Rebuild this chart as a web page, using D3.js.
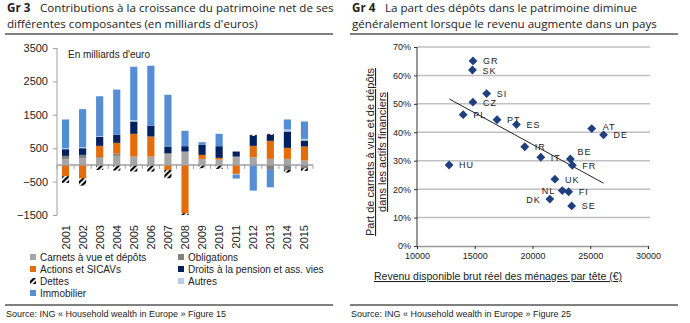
<!DOCTYPE html>
<html>
<head>
<meta charset="utf-8">
<script src="https://cdn.jsdelivr.net/npm/d3@7"></script>
<style>
  body { margin: 0; background: #fff; }
  svg { display: block; }
  .title { font-family: "Open Sans", sans-serif; font-size: 11.6px; fill: #222; }
  .ax { font-family: Arial, "Liberation Sans", sans-serif; fill: #222; }
</style>
</head>
<body>
<div id="chart"></div>
<script>
var W = 690, H = 323;

// ---- Gr 3 data (milliards d'euros)
var years = ["2001","2002","2003","2004","2005","2006","2007","2008","2009","2010","2011","2012","2013","2014","2015"];
var carnets     = [170, 200, 200, 270, 250, 250, 320, 400, 180, 160, 230, 230, 180, 180, 130];
var obligations = [100, 100, 30, 70, 0, 0, 30, 0, 0, 0, 20, 0, -150, -150, -100];
var actions     = [-340, -400, 340, 320, 680, 600, -150, -1450, 120, 50, -270, 340, 540, 330, 420];
var pension     = [200, 200, 265, 245, 370, 320, 200, 160, 300, 350, 150, 300, 180, 490, 180];
var dettes      = [-200, -220, -150, -170, -200, -200, -250, -50, -100, -120, 0, 30, 30, -80, -80];
var autres      = [30, 30, 20, 0, 40, 0, 0, 0, 0, 0, -20, 0, 0, 60, 50];
var immobilier  = [860, 1140, 1200, 1350, 1600, 1800, 1550, 460, 80, 370, -120, -770, -520, 300, 520];
var leftTicks = [-1500, -500, 500, 1500, 2500, 3500];

// ---- Gr 4 data
var countries = ["GR","SK","SI","CZ","PL","PT","ES","HU","AT","DE","IR","IT","BE","FR","UK","NL","FI","DK","SE"];
var revenu    = [14850, 14800, 16030, 14840, 14000, 16930, 18610, 12780, 25130, 26150, 19330, 20720, 23280, 23450, 21940, 22580, 23130, 21500, 23390];
var partDepots= [0.651, 0.619, 0.536, 0.506, 0.462, 0.444, 0.427, 0.285, 0.413, 0.391, 0.349, 0.312, 0.306, 0.284, 0.235, 0.195, 0.191, 0.165, 0.141];
var trendX = [12800, 26150];
var trendY = [0.517, 0.221];
var pctTicks = [0, 0.1, 0.2, 0.3, 0.4, 0.5, 0.6, 0.7];
var revTicks = [10000, 15000, 20000, 25000, 30000];

var svg = d3.select("#chart").append("svg").attr("width", W).attr("height", H);

var defs = svg.append("defs");
var pat = defs.append("pattern").attr("id", "hatch").attr("patternUnits", "userSpaceOnUse")
    .attr("width", 4).attr("height", 4).attr("patternTransform", "rotate(45)");
pat.append("rect").attr("width", 4).attr("height", 4).attr("fill", "#fff");
pat.append("rect").attr("width", 2.2).attr("height", 4).attr("fill", "#000");

// ---------- titles
function title(x, num, l1, l2, x1, x2) {
  svg.append("text").attr("class", "title").attr("x", x).attr("y", 12).attr("font-weight", "bold").text(num);
  svg.append("text").attr("class", "title").attr("x", x + 33).attr("y", 12).text(l1);
  svg.append("text").attr("class", "title").attr("x", x).attr("y", 27.5).text(l2);
  svg.append("line").attr("x1", x1).attr("x2", x2).attr("y1", 34).attr("y2", 34).attr("stroke", "#000").attr("stroke-width", 1);
}
title(7, "Gr 3", "Contributions à la croissance du patrimoine net de ses", "différentes composantes (en milliards d'euros)", 5, 333);
title(352, "Gr 4", "La part des dépôts dans le patrimoine diminue", "généralement lorsque le revenu augmente dans un pays", 350, 678);

// ---------- Gr 3
var keys = ["carnets","obligations","actions","pension","dettes","autres","immobilier"];
var colors = {carnets:"#A6A6A6", obligations:"#808080", actions:"#E46C0A", pension:"#002060",
              dettes:"url(#hatch)", autres:"#B9CDE5", immobilier:"#558ED5"};
var series = {carnets:carnets, obligations:obligations, actions:actions, pension:pension,
              dettes:dettes, autres:autres, immobilier:immobilier};
var rows = years.map(function(y, i) {
  var r = {year: y};
  keys.forEach(function(k) { r[k] = series[k][i]; });
  return r;
});

var x = d3.scaleBand().domain(years).range([57, 313]).paddingInner(0.58).paddingOuter(0.29);
var y = d3.scaleLinear().domain([-1500, 3500]).range([215, 48]);

var stacked = d3.stack().keys(keys).offset(d3.stackOffsetDiverging)(rows);

svg.append("g").selectAll("g").data(stacked).enter().append("g")
  .attr("fill", function(d) { return colors[d.key]; })
  .selectAll("rect").data(function(d) { return d; }).enter().append("rect")
  .attr("x", function(d) { return x(d.data.year); })
  .attr("width", x.bandwidth())
  .attr("y", function(d) { return y(Math.max(d[0], d[1])); })
  .attr("height", function(d) { return Math.abs(y(d[0]) - y(d[1])); });

// y axis
var yAxis = svg.append("g").attr("transform", "translate(57,0)")
  .call(d3.axisLeft(y).tickValues(leftTicks).tickSize(4).tickFormat(d3.format("d")));
yAxis.select(".domain").attr("stroke", "#A0A0A0").attr("d", "M0," + y(-1500) + "V" + y(3500));
yAxis.selectAll(".tick line").attr("stroke", "#A0A0A0");
yAxis.selectAll("text").attr("class", "ax").attr("font-size", "11px").attr("x", -9);

// zero axis
var bandStep = x.step();
var zero = svg.append("g").attr("transform", "translate(0," + y(0) + ")");
zero.append("line").attr("x1", 57).attr("x2", 313).attr("stroke", "#A0A0A0").attr("stroke-width", 1.5);
zero.selectAll("line.t").data(d3.range(years.length + 1)).enter().append("line")
  .attr("x1", function(i) { return 57 + i * bandStep; })
  .attr("x2", function(i) { return 57 + i * bandStep; })
  .attr("y1", 0).attr("y2", 4).attr("stroke", "#A0A0A0");

// year labels
svg.append("g").selectAll("text").data(years).enter().append("text")
  .attr("class", "ax").attr("font-size", "11px").attr("text-anchor", "end")
  .attr("transform", function(d) { return "translate(" + (x(d) + x.bandwidth() / 2 + 4) + ",225) rotate(-90)"; })
  .text(function(d) { return d; });

svg.append("text").attr("class", "ax").attr("font-size", "10px").attr("x", 68).attr("y", 58).text("En milliards d'euro");

// legend
var legendItems = [
  {k:"carnets", t:"Carnets à vue et dépôts", c:0, r:0},
  {k:"obligations", t:"Obligations", c:1, r:0},
  {k:"actions", t:"Actions et SICAVs", c:0, r:1},
  {k:"pension", t:"Droits à la pension et ass. vies", c:1, r:1},
  {k:"dettes", t:"Dettes", c:0, r:2},
  {k:"autres", t:"Autres", c:1, r:2},
  {k:"immobilier", t:"Immobilier", c:0, r:3}
];
var lg = svg.append("g").selectAll("g").data(legendItems).enter().append("g")
  .attr("transform", function(d) { return "translate(" + (d.c ? 178 : 30) + "," + (257 + d.r * 12) + ")"; });
lg.append("rect").attr("x", 0).attr("y", -3).attr("width", 6).attr("height", 6)
  .attr("fill", function(d) { return colors[d.k]; });
lg.append("text").attr("class", "ax").attr("font-size", "10px").attr("x", 10).attr("y", 3.5)
  .text(function(d) { return d.t; });

// ---------- Gr 4
var px = d3.scaleLinear().domain([10000, 30000]).range([417, 648]);
var py = d3.scaleLinear().domain([0, 0.7]).range([246, 47]);

svg.append("g").selectAll("line").data(pctTicks.slice(1)).enter().append("line")
  .attr("x1", 417).attr("x2", 650)
  .attr("y1", function(d) { return py(d); }).attr("y2", function(d) { return py(d); })
  .attr("stroke", "#C0C0C0").attr("stroke-width", 1.5);

var ry = svg.append("g").attr("transform", "translate(417,0)")
  .call(d3.axisLeft(py).tickValues(pctTicks).tickSize(3).tickFormat(d3.format(".0%")));
ry.select(".domain").attr("stroke", "#333").attr("d", "M0," + py(0) + "V" + py(0.7));
ry.selectAll(".tick line").attr("stroke", "#333");
ry.selectAll("text").attr("class", "ax").attr("font-size", "9px").attr("x", -6);

var rx = svg.append("g").attr("transform", "translate(0," + py(0) + ")")
  .call(d3.axisBottom(px).tickValues(revTicks).tickSize(3).tickFormat(d3.format("d")));
rx.select(".domain").attr("stroke", "#999").attr("stroke-width", 1.5);
rx.selectAll(".tick line").attr("stroke", "#333");
rx.selectAll("text").attr("class", "ax").attr("font-size", "9px").attr("y", 7);

// trend line
svg.append("line")
  .attr("x1", px(trendX[0])).attr("y1", py(trendY[0]))
  .attr("x2", px(trendX[1])).attr("y2", py(trendY[1]))
  .attr("stroke", "#222").attr("stroke-width", 1);

var pts = countries.map(function(c, i) { return {c:c, x:revenu[i], y:partDepots[i]}; });
var diamond = d3.symbol().type(d3.symbolDiamond2).size(50);
svg.append("g").selectAll("path").data(pts).enter().append("path")
  .attr("d", diamond)
  .attr("transform", function(d) { return "translate(" + px(d.x) + "," + py(d.y) + ")"; })
  .attr("fill", "#1F3F7F");

// label placement (dx, dy, anchor)
var labelPos = {NL:[-7, 0, "end"], DK:[-9, 0, "end"], BE:[7, -8, "start"], AT:[11, -2, "start"], PL:[10, 0, "start"]};
svg.append("g").selectAll("text").data(pts).enter().append("text")
  .attr("class", "ax").attr("font-size", "9px").attr("letter-spacing", "1px")
  .attr("x", function(d) { var p = labelPos[d.c]; return px(d.x) + (p ? p[0] : 10); })
  .attr("y", function(d) { var p = labelPos[d.c]; return py(d.y) + (p ? p[1] : 0) + 3.5; })
  .attr("text-anchor", function(d) { var p = labelPos[d.c]; return p ? p[2] : "start"; })
  .text(function(d) { return d.c; });

// axis titles
var yt = svg.append("text").attr("class", "ax").attr("font-size", "11px").attr("text-anchor", "middle")
  .attr("text-decoration", "underline")
  .attr("transform", "translate(374,152) rotate(-90)");
yt.append("tspan").attr("x", 0).attr("y", 0).text("Part de carnets à vue et de dépôts");
yt.append("tspan").attr("x", 0).attr("y", 12).text("dans les actifs financiers");

svg.append("text").attr("class", "ax").attr("font-size", "10.5px").attr("text-anchor", "middle")
  .attr("text-decoration", "underline").attr("x", 498).attr("y", 280)
  .text("Revenu disponible brut  réel des ménages par tête (€)");

// footers
[[5, 333, "Source: ING « Household  wealth in Europe » Figure 15"],
 [350, 678, "Source: ING « Household  wealth in Europe » Figure 25"]].forEach(function(f) {
  svg.append("line").attr("x1", f[0]).attr("x2", f[1]).attr("y1", 305).attr("y2", 305).attr("stroke", "#000");
  svg.append("text").attr("class", "ax").attr("font-size", "9px").attr("fill", "#444")
    .attr("x", f[0] + 1).attr("y", 317).text(f[2]);
});
</script>
</body>
</html>
